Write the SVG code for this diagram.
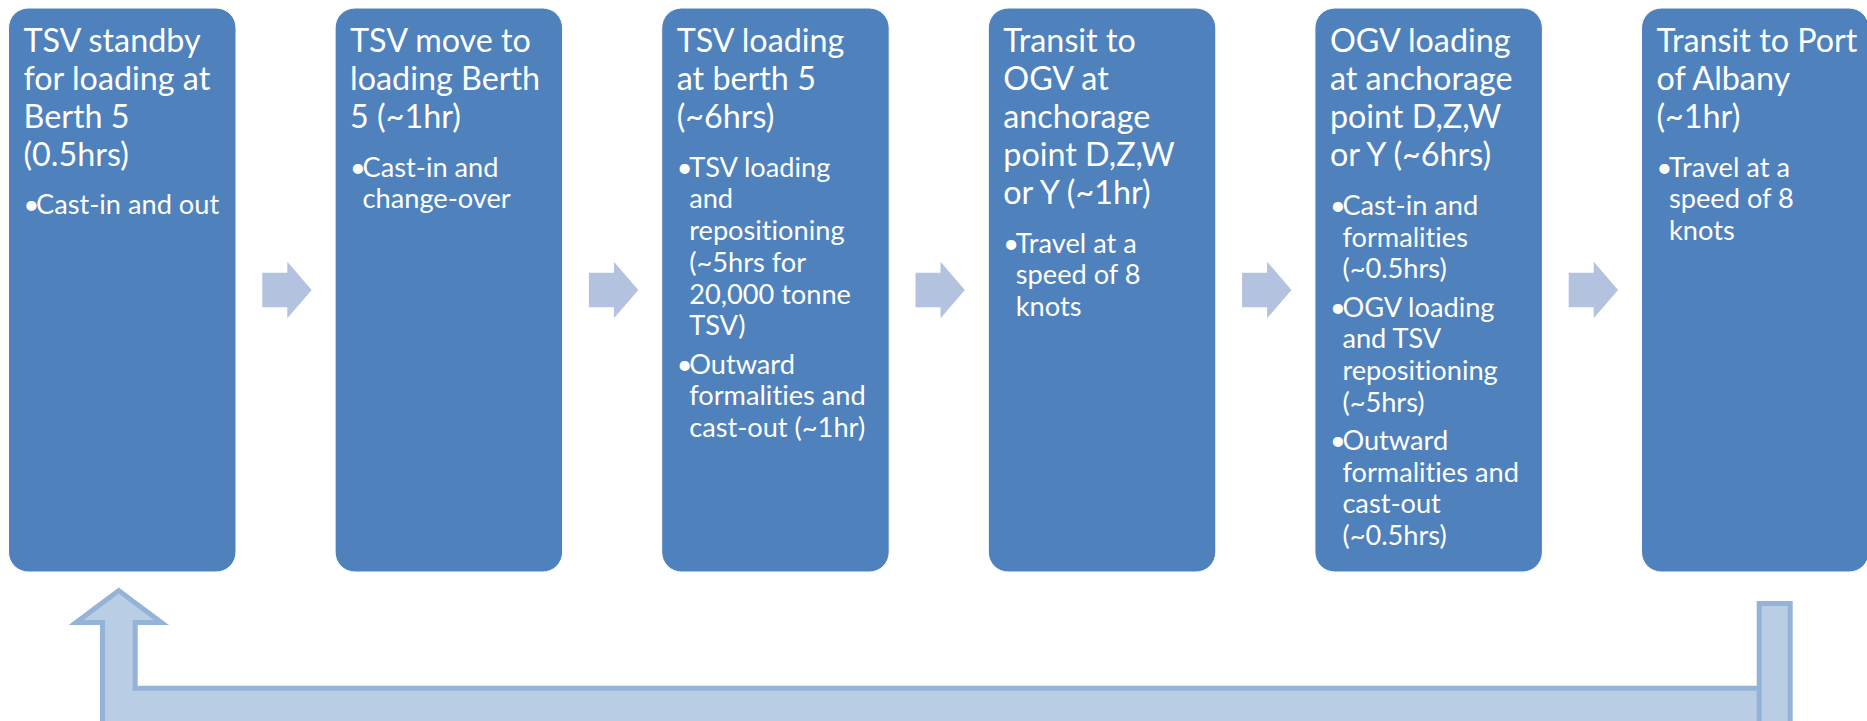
<svg xmlns="http://www.w3.org/2000/svg" width="1867" height="721" viewBox="0 0 1867 721">
<style>
.box{fill:#4F81BD;stroke:#FFFFFF;stroke-width:1}
.t{font-family:Lato,"Liberation Sans",sans-serif;font-size:32.3px;fill:#FFFFFF;font-variant-ligatures:none}
.b{font-family:Lato,"Liberation Sans",sans-serif;font-size:27.2px;fill:#FFFFFF;font-variant-ligatures:none}
.arr{fill:#B3C2DE}
.bent{fill:#B9CDE5;stroke:#95B3D7;stroke-width:5}
</style>
<defs>
<polygon id="rarrow" class="arr" points="262.3,272.7 287.3,272.7 287.3,261.7 311.7,290 287.3,318.3 287.3,307.3 262.3,307.3"/>
</defs>
<g id="node1">
<rect class="box" x="8.5" y="8" width="227.5" height="564" rx="20"/>
<text class="t" x="23.5"><tspan x="23.5" y="52.3">TSV standby</tspan><tspan x="23.5" y="90.3">for loading at</tspan><tspan x="23.5" y="128.3">Berth 5</tspan><tspan x="23.5" y="166.3">(0.5hrs)</tspan></text>
<text class="b"><tspan x="23.5" y="214.3">•</tspan><tspan x="36" y="214.3">Cast-in and out</tspan></text>
</g>
<g id="node2">
<rect class="box" x="335.1" y="8" width="227.5" height="564" rx="20"/>
<text class="t"><tspan x="350.1" y="52.3">TSV move to</tspan><tspan x="350.1" y="90.3">loading Berth</tspan><tspan x="350.1" y="128.3">5 (~1hr)</tspan></text>
<text class="b"><tspan x="350.1" y="176.7">•</tspan><tspan x="362.6" y="176.7">Cast-in and</tspan><tspan x="362.6" y="208.4">change-over</tspan></text>
</g>
<g id="node3">
<rect class="box" x="661.7" y="8" width="227.5" height="564" rx="20"/>
<text class="t"><tspan x="676.7" y="52.3">TSV loading</tspan><tspan x="676.7" y="90.3">at berth 5</tspan><tspan x="676.7" y="128.3">(~6hrs)</tspan></text>
<text class="b"><tspan x="676.7" y="176.7">•</tspan><tspan x="689.2" y="176.7">TSV loading</tspan><tspan x="689.2" y="208.4">and</tspan><tspan x="689.2" y="240.1">repositioning</tspan><tspan x="689.2" y="271.8">(~5hrs for</tspan><tspan x="689.2" y="303.5">20,000 tonne</tspan><tspan x="689.2" y="335.2">TSV)</tspan><tspan x="676.7" y="373.7">•</tspan><tspan x="689.2" y="373.7">Outward</tspan><tspan x="689.2" y="405.4">formalities and</tspan><tspan x="689.2" y="437.1">cast-out (~1hr)</tspan></text>
</g>
<g id="node4">
<rect class="box" x="988.3" y="8" width="227.5" height="564" rx="20"/>
<text class="t"><tspan x="1003.3" y="52.3">Transit to</tspan><tspan x="1003.3" y="90.3">OGV at</tspan><tspan x="1003.3" y="128.3">anchorage</tspan><tspan x="1003.3" y="166.3">point D,Z,W</tspan><tspan x="1003.3" y="204.3">or Y (~1hr)</tspan></text>
<text class="b"><tspan x="1003.3" y="252.5">•</tspan><tspan x="1015.8" y="252.5">Travel at a</tspan><tspan x="1015.8" y="284.2">speed of 8</tspan><tspan x="1015.8" y="315.9">knots</tspan></text>
</g>
<g id="node5">
<rect class="box" x="1314.9" y="8" width="227.5" height="564" rx="20"/>
<text class="t"><tspan x="1329.9" y="52.3">OGV loading</tspan><tspan x="1329.9" y="90.3">at anchorage</tspan><tspan x="1329.9" y="128.3">point D,Z,W</tspan><tspan x="1329.9" y="166.3">or Y (~6hrs)</tspan></text>
<text class="b"><tspan x="1329.9" y="214.8">•</tspan><tspan x="1342.4" y="214.8">Cast-in and</tspan><tspan x="1342.4" y="246.5">formalities</tspan><tspan x="1342.4" y="278.2">(~0.5hrs)</tspan><tspan x="1329.9" y="316.5">•</tspan><tspan x="1342.4" y="316.5">OGV loading</tspan><tspan x="1342.4" y="348.2">and TSV</tspan><tspan x="1342.4" y="379.9">repositioning</tspan><tspan x="1342.4" y="411.6">(~5hrs)</tspan><tspan x="1329.9" y="449.9">•</tspan><tspan x="1342.4" y="449.9">Outward</tspan><tspan x="1342.4" y="481.6">formalities and</tspan><tspan x="1342.4" y="513.3">cast-out</tspan><tspan x="1342.4" y="545">(~0.5hrs)</tspan></text>
</g>
<g id="node6">
<rect class="box" x="1641.5" y="8" width="227.5" height="564" rx="20"/>
<text class="t"><tspan x="1656.5" y="52.3">Transit to Port</tspan><tspan x="1656.5" y="90.3">of Albany</tspan><tspan x="1656.5" y="128.3">(~1hr)</tspan></text>
<text class="b"><tspan x="1656.5" y="176.7">•</tspan><tspan x="1669" y="176.7">Travel at a</tspan><tspan x="1669" y="208.4">speed of 8</tspan><tspan x="1669" y="240.1">knots</tspan></text>
</g>
<g id="connectors">
<use href="#rarrow"/>
<use href="#rarrow" transform="translate(326.6,0)"/>
<use href="#rarrow" transform="translate(653.2,0)"/>
<use href="#rarrow" transform="translate(979.8,0)"/>
<use href="#rarrow" transform="translate(1306.4,0)"/>
<path class="bent" d="M102.5,730 V622.5 H76 L118.7,590.5 L161.5,622.5 H135.2 V688.2 H1785 V730 Z"/>
<rect class="bent" x="1759.2" y="603.5" width="31" height="130"/>
</g>
</svg>
